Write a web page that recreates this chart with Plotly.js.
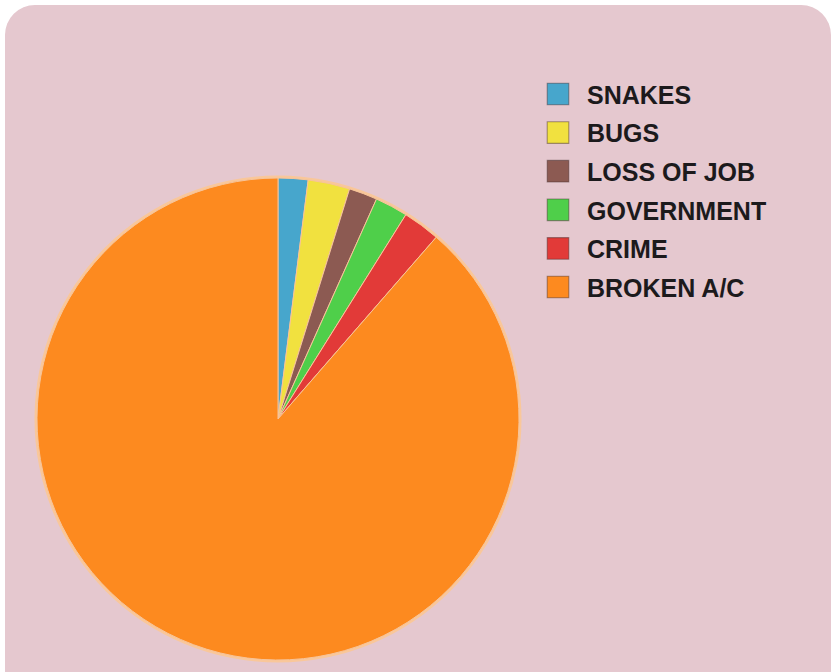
<!DOCTYPE html>
<html>
<head>
<meta charset="utf-8">
<script src="https://cdn.plot.ly/plotly-3.0.1.min.js"></script>
<style>
  html, body { margin: 0; padding: 0; background: #ffffff; width: 838px; height: 672px; overflow: hidden; }
  #card { position: absolute; left: 5px; top: 5px; width: 826px; height: 720px; background: #e5c8cf; border-radius: 30px; }
  #chart { position: absolute; left: 0; top: 0; width: 838px; height: 672px; }
</style>
</head>
<body>
<div id="card"></div>
<div id="chart"></div>
<script>
// Data (percent of slices)
const labels = ["SNAKES", "BUGS", "LOSS OF JOB", "GOVERNMENT", "CRIME", "BROKEN A/C"];
const values = [2.0, 2.8, 1.9, 2.2, 2.5, 88.6];
const colors = ["#47a6cc", "#f1e13f", "#8c5a52", "#4fcf4a", "#e23a38", "#fd8a1f"];

const W = 838, H = 672;
const cx = 278, cy = 419, r = 241;

const trace = {
  type: "pie",
  labels: labels,
  values: values,
  sort: false,
  direction: "clockwise",
  rotation: 0,
  textinfo: "none",
  hoverinfo: "label+percent",
  marker: { colors: colors, line: { color: "#f7c49a", width: 1 } },
  domain: {
    x: [(cx - r) / W, (cx + r) / W],
    y: [(H - cy - r) / H, (H - cy + r) / H]
  }
};

const layout = {
  width: W, height: H,
  margin: { l: 0, r: 0, t: 0, b: 0 },
  paper_bgcolor: "rgba(0,0,0,0)",
  plot_bgcolor: "rgba(0,0,0,0)",
  showlegend: true,
  legend: {
    x: 547 / W, y: 1 - 72 / H,
    xanchor: "left", yanchor: "top",
    bgcolor: "rgba(0,0,0,0)",
    borderwidth: 0,
    font: { family: "Liberation Sans, Arial, sans-serif", size: 25, color: "#1c1a1c", weight: "bold" },
    traceorder: "normal"
  },
  shapes: [{
    type: "circle", layer: "below", xref: "paper", yref: "paper",
    x0: (cx - r - 2.5) / W, x1: (cx + r + 2.5) / W,
    y0: (H - cy - r - 2.5) / H, y1: (H - cy + r + 2.5) / H,
    fillcolor: "#f9c79a", line: { width: 0 }
  }]
};

Plotly.newPlot("chart", [trace], layout, { displayModeBar: false, staticPlot: true }).then(function (gd) {
  // remove legend clipping so rows can be spread like the reference
  gd.querySelectorAll(".legend [clip-path]").forEach(function (e) { e.removeAttribute("clip-path"); });
  const items = gd.querySelectorAll(".legend .traces");
  items.forEach(function (g, i) {
    const t = g.getAttribute("transform") || "";
    const m = /translate\(([-\d.]+),\s*([-\d.]+)\)/.exec(t);
    const x = m ? parseFloat(m[1]) : 0;
    g.setAttribute("transform", "translate(" + x + "," + (22 + i * 38.6) + ")");
    const p = g.querySelector(".legendpoints path");
    if (p) {
      p.setAttribute("transform", "translate(11,0) scale(1.8)");
      p.style.strokeWidth = "0.6px";
      p.style.stroke = "rgba(60,40,40,0.45)";
    }
  });
});
</script>
</body>
</html>
